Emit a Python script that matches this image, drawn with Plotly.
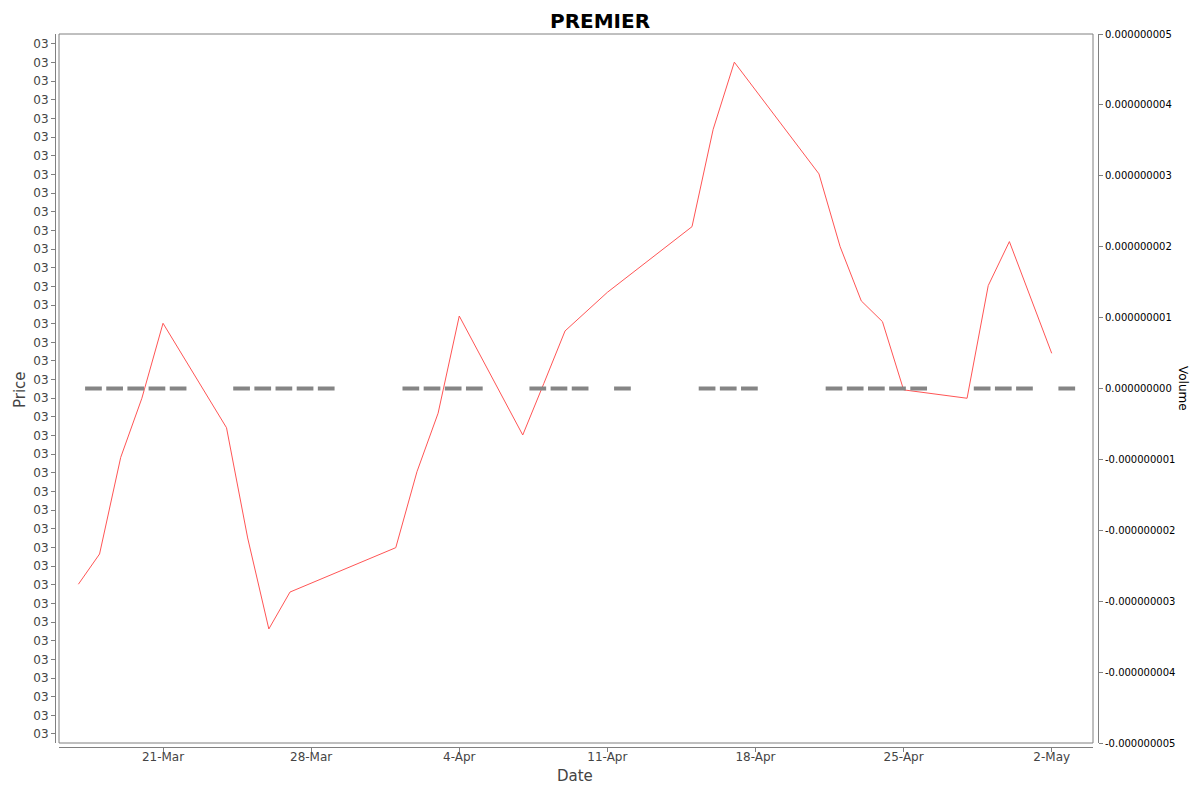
import plotly.graph_objects as go

# trading days shown on the chart
dates = ['2025-03-17', '2025-03-18', '2025-03-19', '2025-03-20', '2025-03-21',
         '2025-03-24', '2025-03-25', '2025-03-26', '2025-03-27', '2025-03-28',
         '2025-04-01', '2025-04-02', '2025-04-03', '2025-04-04',
         '2025-04-07', '2025-04-08', '2025-04-09', '2025-04-11',
         '2025-04-15', '2025-04-16', '2025-04-17',
         '2025-04-21', '2025-04-22', '2025-04-23', '2025-04-24', '2025-04-25',
         '2025-04-28', '2025-04-29', '2025-04-30', '2025-05-02']

# price in axis-tick units (every tick is labelled "03")
price = [8.03, 9.65, 14.83, 18.00, 22.02,
         16.42, 10.51, 5.63, 7.61, 8.09,
         9.99, 14.06, 17.20, 22.41,
         16.03, 18.80, 21.61, 23.68,
         27.20, 32.42, 36.02,
         30.03, 26.13, 23.22, 22.11, 18.45,
         18.00, 24.04, 26.40, 20.41]

volume = [0, 0, 0, 0, 0,
          0, 0, 0, 0, 0,
          0, 0, 0, 0,
          0, 0, 0, 0,
          0, 0, 0,
          0, 0, 0, 0, 0,
          0, 0, 0, 0]

price_ticks = list(range(38))
price_tick_labels = ["03"] * 38

date_ticks = ['2025-03-21', '2025-03-28', '2025-04-04', '2025-04-11',
              '2025-04-18', '2025-04-25', '2025-05-02']
date_tick_labels = ['21-Mar', '28-Mar', '4-Apr', '11-Apr', '18-Apr', '25-Apr', '2-May']

volume_ticks = [-5e-9, -4e-9, -3e-9, -2e-9, -1e-9, 0, 1e-9, 2e-9, 3e-9, 4e-9, 5e-9]
volume_tick_labels = ['-0.000000005', '-0.000000004', '-0.000000003', '-0.000000002',
                      '-0.000000001', '0.000000000', '0.000000001', '0.000000002',
                      '0.000000003', '0.000000004', '0.000000005']

DAY_MS = 86400000
GRAY = "#808080"
FONT = "DejaVu Sans"

# the page body has an 8px margin, so the figure is 8px smaller than the window
PAPER_W = 1043
PAPER_H = 713

fig = go.Figure()

fig.add_trace(go.Bar(
    x=dates, y=volume, yaxis="y2",
    offset=0.317 * DAY_MS, width=0.79 * DAY_MS,
    marker=dict(color="#808080", line=dict(color="#858585", width=4)),
    showlegend=False, hoverinfo="skip",
))

fig.add_trace(go.Scatter(
    x=dates, y=price, mode="lines",
    line=dict(color="#ff5555", width=1),
    showlegend=False,
))

axis_common = dict(
    showgrid=False, zeroline=False, automargin=False,
    showline=True, linecolor=GRAY, linewidth=1,
    ticks="outside", ticklen=4, tickcolor=GRAY,
)


def label(text, px, py, size, color, angle=0):
    # px, py: centre of the text in window pixels
    return dict(text=text, xref="paper", yref="paper",
                x=(px - 55) / PAPER_W, y=(747 - py) / PAPER_H,
                xanchor="center", yanchor="middle", textangle=angle,
                showarrow=False, font=dict(size=size, color=color, family=FONT))


fig.update_layout(
    width=1192, height=784,
    margin=dict(l=47, r=102, t=26, b=45, autoexpand=False),
    paper_bgcolor="white", plot_bgcolor="white",
    font=dict(family=FONT, color="#444444"),
    xaxis=dict(
        domain=[4 / PAPER_W, 1038 / PAPER_W],
        anchor="free", position=0,
        type="date",
        range=['2025-03-16 02:00', '2025-05-03 22:50'],
        tickvals=date_ticks, ticktext=date_tick_labels,
        tickfont=dict(size=12, color="#444444"),
        ticklabelstandoff=-5,
        **axis_common,
    ),
    yaxis=dict(
        domain=[4 / PAPER_H, 1],
        anchor="free", position=0,
        range=[-0.483, 37.53],
        tickvals=price_ticks, ticktext=price_tick_labels,
        tickfont=dict(size=12, color="#444444"),
        **axis_common,
    ),
    yaxis2=dict(
        domain=[4 / PAPER_H, 1],
        overlaying="y", side="right",
        anchor="free", position=1,
        range=[-5e-9, 5e-9],
        tickvals=volume_ticks, ticktext=volume_tick_labels,
        tickfont=dict(size=10, color="black"),
        **axis_common,
    ),
    shapes=[dict(type="rect", xref="x domain", yref="y domain",
                 x0=0, x1=1, y0=0, y1=1,
                 line=dict(color=GRAY, width=1))],
    annotations=[
        label("<b>PREMIER</b>", 600, 21, 20, "black"),
        label("Price", 20, 390, 15, "#444444", -90),
        label("Date", 575, 776, 15, "#444444"),
        label("Volume", 1183, 388, 12, "black", 90),
    ],
)

fig.write_html("out.html")
